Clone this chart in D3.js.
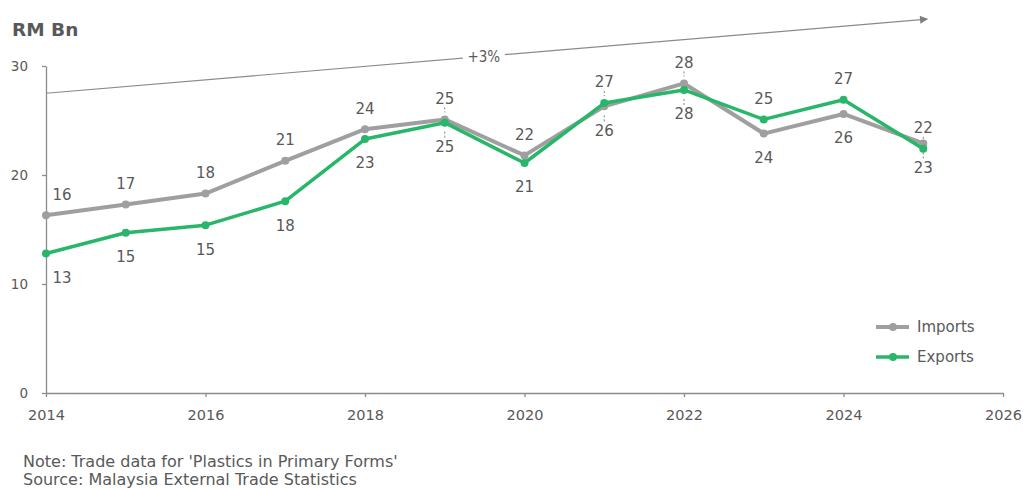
<!DOCTYPE html>
<html>
<head>
<meta charset="utf-8">
<script src="https://cdn.jsdelivr.net/npm/d3@7"></script>
<style>
  html, body { margin: 0; padding: 0; background: #ffffff; }
  svg { display: block; font-family: "DejaVu Sans", Verdana, sans-serif; }
</style>
</head>
<body>
<svg id="chart" width="1023" height="488"></svg>
<script>
// Plastics in primary forms: Malaysian trade, RM billion
const years   = [2014, 2015, 2016, 2017, 2018, 2019, 2020, 2021, 2022, 2023, 2024, 2025];
const imports = [16.3, 17.3, 18.3, 21.3, 24.2, 25.1, 21.8, 26.3, 28.4, 23.8, 25.6, 22.9];
const exports = [12.8, 14.7, 15.4, 17.6, 23.3, 24.8, 21.1, 26.6, 27.8, 25.1, 26.9, 22.4];

// which side of the marker each value label sits on
const importsLabelSide = ["above","above","above","above","above","above","above","below","above","below","below","below"];
const exportsLabelSide = ["below","below","below","below","below","below","below","above","below","above","above","above"];
// years whose labels carry short leader lines
const leaderYears = [2019, 2021, 2022, 2025];

const xTicks = [2014, 2016, 2018, 2020, 2022, 2024, 2026];
const yTicks = [0, 10, 20, 30];

// compound growth trend annotation
const trendLine  = [{ year: 2014, value: 27.5 }, { year: 2025.05, value: 34.3 }];
const trendLabel = "+3%";

const GREY = "#9f9f9f";
const GREEN = "#28b66a";
const TEXT = "#595959";
const AXIS = "#8c8c8c";

const svg = d3.select("#chart");

const x = d3.scaleLinear().domain([2014, 2026]).range([46, 1003]);
const y = d3.scaleLinear().domain([0, 30]).range([393, 66]);

// unit title
svg.append("text")
  .attr("x", 12).attr("y", 36)
  .attr("font-size", 18.5).attr("font-weight", "bold")
  .attr("fill", TEXT)
  .text("RM Bn");

// y axis
const yAxis = svg.append("g")
  .attr("transform", `translate(${x(2014)},0)`)
  .call(d3.axisLeft(y).tickValues(yTicks).tickSize(4).tickSizeOuter(0).tickPadding(14));
yAxis.select(".domain").attr("stroke", AXIS).attr("stroke-width", 1.3);
yAxis.selectAll(".tick line").attr("stroke", AXIS).attr("stroke-width", 1.3);
yAxis.selectAll(".tick text")
  .attr("font-family", "DejaVu Sans, sans-serif")
  .attr("font-size", 13.5).attr("fill", TEXT);

// x axis
const xAxis = svg.append("g")
  .attr("transform", `translate(0,${y(0)})`)
  .call(d3.axisBottom(x).tickValues(xTicks).tickFormat(d3.format("d")).tickSize(4).tickSizeOuter(0).tickPadding(13));
xAxis.select(".domain").attr("stroke", AXIS).attr("stroke-width", 1.3);
xAxis.selectAll(".tick line").attr("stroke", AXIS).attr("stroke-width", 1.3);
xAxis.selectAll(".tick text")
  .attr("font-family", "DejaVu Sans, sans-serif")
  .attr("font-size", 14.5).attr("fill", TEXT);

// trend arrow
const defs = svg.append("defs");
defs.append("marker")
  .attr("id", "arrowHead")
  .attr("viewBox", "0 0 10 10")
  .attr("refX", 9).attr("refY", 5)
  .attr("markerWidth", 10).attr("markerHeight", 8)
  .attr("markerUnits", "userSpaceOnUse")
  .attr("orient", "auto")
  .append("path").attr("d", "M0,0 L10,5 L0,10 Z").attr("fill", "#7f7f7f");

svg.append("line")
  .attr("x1", x(trendLine[0].year)).attr("y1", y(trendLine[0].value))
  .attr("x2", x(trendLine[1].year)).attr("y2", y(trendLine[1].value))
  .attr("stroke", "#8a8a8a").attr("stroke-width", 1.2)
  .attr("marker-end", "url(#arrowHead)");

const tYear = 2019.49;
const tVal = trendLine[0].value + (trendLine[1].value - trendLine[0].value) *
  (tYear - trendLine[0].year) / (trendLine[1].year - trendLine[0].year);
svg.append("rect")
  .attr("x", x(tYear) - 21).attr("y", y(tVal) - 10)
  .attr("width", 42).attr("height", 20)
  .attr("fill", "#ffffff");
svg.append("text")
  .attr("x", x(tYear)).attr("y", y(tVal))
  .attr("dy", "0.36em")
  .attr("text-anchor", "middle")
  .attr("font-family", "'DejaVu Sans Condensed', 'DejaVu Sans', sans-serif")
  .attr("font-size", 15).attr("fill", TEXT)
  .text(trendLabel);

// series
const series = [
  { name: "Imports", values: imports, color: GREY, width: 4, sides: importsLabelSide },
  { name: "Exports", values: exports, color: GREEN, width: 3.5, sides: exportsLabelSide }
];

const line = d3.line()
  .x(d => x(d.year))
  .y(d => y(d.value));

series.forEach(s => {
  const pts = years.map((yr, i) => ({ year: yr, value: s.values[i], side: s.sides[i] }));
  const g = svg.append("g");
  g.append("path")
    .datum(pts)
    .attr("d", line)
    .attr("fill", "none")
    .attr("stroke", s.color)
    .attr("stroke-width", s.width)
    .attr("stroke-linejoin", "round");
  g.selectAll("circle")
    .data(pts)
    .join("circle")
    .attr("cx", d => x(d.year))
    .attr("cy", d => y(d.value))
    .attr("r", 4)
    .attr("fill", s.color);
  s.pts = pts;
});

// value labels
const labelLayer = svg.append("g");
series.forEach(s => {
  s.pts.forEach(d => {
    const px = x(d.year) + (d.year === 2014 ? 16 : 0);
    const py = y(d.value);
    const cy = d.side === "above" ? py - 21 : py + 24;
    labelLayer.append("text")
      .attr("x", px).attr("y", cy)
      .attr("dy", "0.36em")
      .attr("text-anchor", "middle")
      .attr("font-size", 15).attr("fill", TEXT)
      .text(d3.format(".0f")(d.value));
    if (leaderYears.includes(d.year)) {
      const y1 = d.side === "above" ? cy + 9 : cy - 9;
      const y2 = d.side === "above" ? py - 7 : py + 7;
      if (Math.abs(y2 - y1) > 1) {
        labelLayer.append("line")
          .attr("x1", x(d.year)).attr("x2", x(d.year))
          .attr("y1", y1).attr("y2", y2)
          .attr("stroke", "#808080").attr("stroke-width", 1)
          .attr("stroke-dasharray", "2,2");
      }
    }
  });
});

// legend
const legend = svg.append("g").attr("transform", "translate(876,327)");
series.forEach((s, i) => {
  const row = legend.append("g").attr("transform", `translate(0,${i * 30})`);
  row.append("line")
    .attr("x1", 0).attr("x2", 33).attr("y1", 0).attr("y2", 0)
    .attr("stroke", s.color).attr("stroke-width", s.width);
  row.append("circle").attr("cx", 17).attr("cy", 0).attr("r", 4).attr("fill", s.color);
  row.append("text")
    .attr("x", 41).attr("y", 0).attr("dy", "0.35em")
    .attr("font-size", 15).attr("fill", TEXT)
    .text(s.name);
});

// footnotes
svg.append("text")
  .attr("x", 23).attr("y", 467)
  .attr("font-size", 16).attr("fill", TEXT)
  .text("Note: Trade data for 'Plastics in Primary Forms'");
svg.append("text")
  .attr("x", 23).attr("y", 485)
  .attr("font-size", 16).attr("fill", TEXT)
  .text("Source: Malaysia External Trade Statistics");
</script>
</body>
</html>
